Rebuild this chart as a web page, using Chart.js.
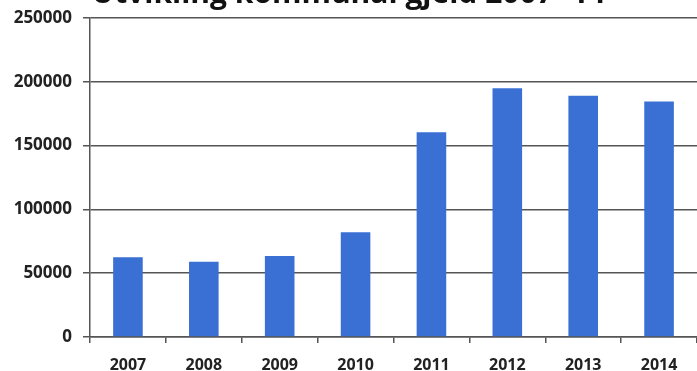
<!DOCTYPE html>
<html>
<head>
<meta charset="utf-8">
<script src="https://cdn.jsdelivr.net/npm/chart.js@4.4.1/dist/chart.umd.min.js"></script>
<style>
  html, body { margin: 0; padding: 0; background: #fff; }
  #wrap { position: relative; width: 697px; height: 371px; overflow: hidden; }
  #myChart { position: absolute; left: 0; top: -24px; }
</style>
</head>
<body>
<div id="wrap"><canvas id="myChart" width="697" height="395"></canvas></div>
<script>
// data
const years = ['2007', '2008', '2009', '2010', '2011', '2012', '2013', '2014'];
const gjeld = [62500, 59000, 63500, 82000, 160500, 195000, 189000, 184500];
const yTicks = [0, 50000, 100000, 150000, 200000, 250000];
const title = 'Utvikling kommunal gjeld 2007- 14';

const ctx = document.getElementById('myChart').getContext('2d');
const chart = new Chart(ctx, {
    type: 'bar',
    data: {
        labels: years,
        datasets: [{
            label: 'Kommunal gjeld',
            data: gjeld,
            backgroundColor: '#3a70d3',
            borderWidth: 0,
            categoryPercentage: 1,
            barPercentage: 0.39
        }]
    },
    options: {
        responsive: false,
        animation: false,
        plugins: {
            legend: { display: false },
            tooltip: { enabled: false },
            title: {
                display: true,
                text: title,
                color: '#111',
                font: { family: 'Open Sans', size: 30, weight: 'bold' },
                padding: { top: 0, bottom: 6 }
            }
        },
        scales: {
            x: {
                grid: {
                    display: true,
                    drawOnChartArea: false,
                    drawTicks: true,
                    tickLength: 6,
                    color: '#555',
                    lineWidth: 1.5,
                    offset: true
                },
                border: { display: true, color: '#555', width: 1.5 },
                ticks: {
                    color: '#222',
                    padding: 13,
                    font: { family: 'Open Sans', size: 16, weight: 'bold' }
                },
                afterFit: function (axis) { axis.height = 34; }
            },
            y: {
                min: 0,
                max: 250000,
                afterBuildTicks: function (axis) {
                    axis.ticks = yTicks.map(v => ({ value: v }));
                },
                grid: {
                    color: '#555',
                    lineWidth: 1.5,
                    tickLength: 7
                },
                border: { display: true, color: '#555', width: 1.5 },
                ticks: {
                    color: '#222',
                    padding: 11,
                    font: { family: 'Open Sans', size: 17, weight: 'bold' },
                    callback: function (value) { return String(value); }
                },
                afterFit: function (axis) { axis.width = 90; }
            }
        }
    }
});
</script>
</body>
</html>
